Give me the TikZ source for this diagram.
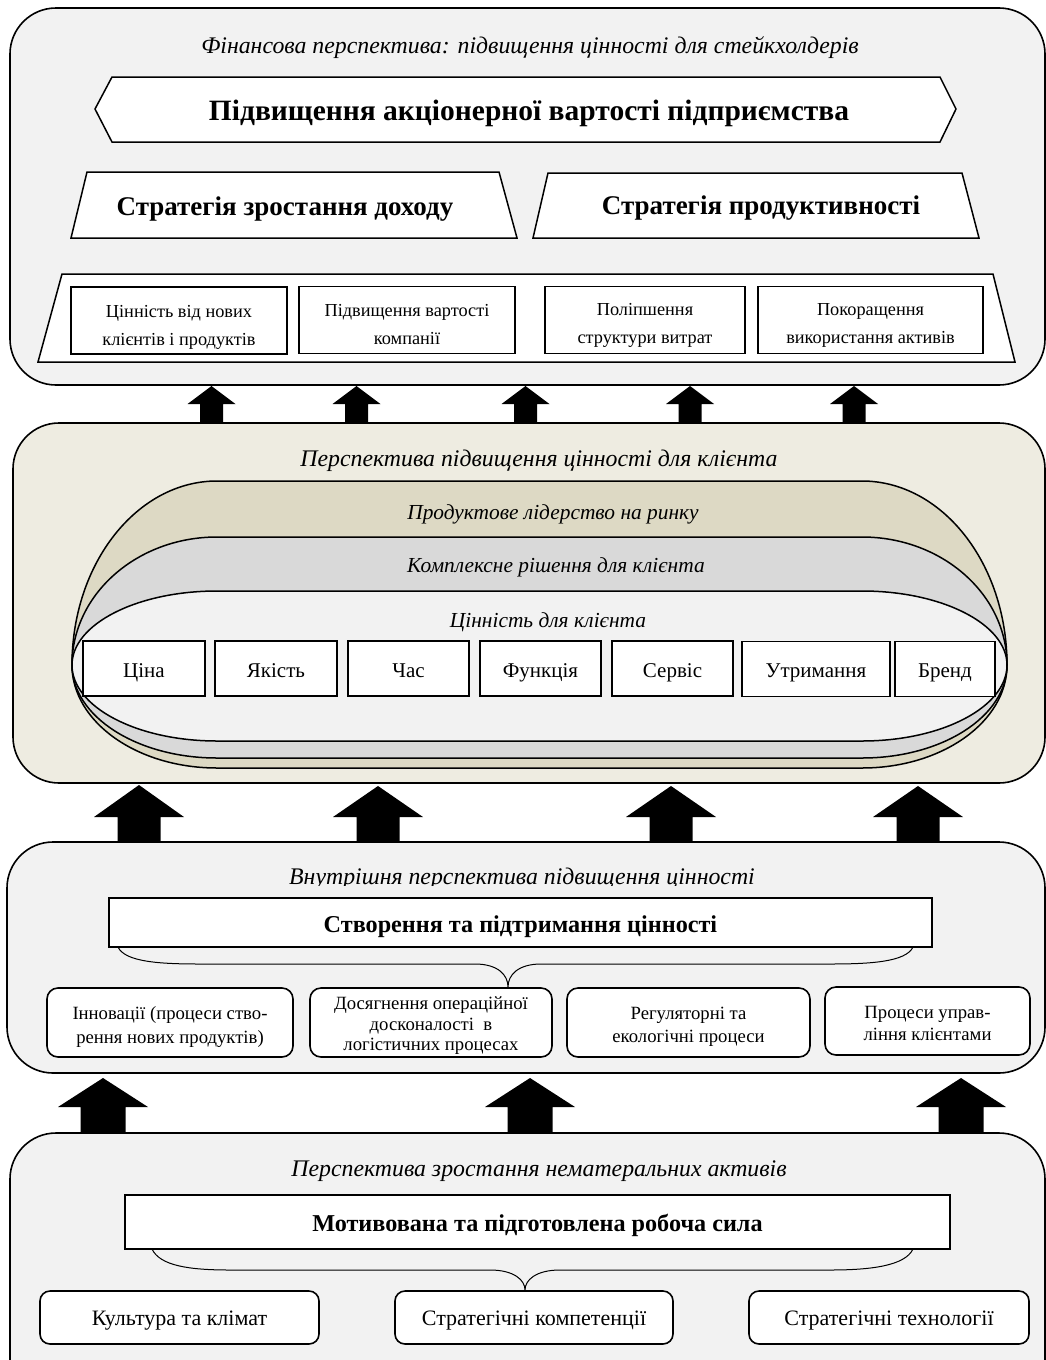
\documentclass[tikz,border=0pt]{standalone}
\usepackage{fontspec}
\setmainfont{Liberation Serif}
\newcommand\myuparrow[7]{%
  \fill[black] (#1-#6,#4) -- (#1-#6,#3) -- (#1-#5,#3) -- (#1,#2) -- (#1+#5,#3) -- (#1+#6,#3) -- (#1+#6,#4) -- cycle;}
\definecolor{pgrey}{HTML}{F2F2F2}
\definecolor{pcream}{HTML}{EEECE1}
\definecolor{ptan}{HTML}{DDD9C4}
\definecolor{pmid}{HTML}{D9D9D9}
\begin{document}
\begin{tikzpicture}[x=1pt,y=-1pt,
  panel/.style={draw=black, line width=1.6pt, rounded corners=46pt},
  shapeline/.style={draw=black, line width=1.5pt, fill=white},
  sbox/.style={draw=black, line width=1.6pt, fill=white, inner sep=0pt},
  rbox/.style={sbox, rounded corners=11pt},
  tx/.style={inner sep=0pt, align=center, execute at begin node=\strut, execute at end node=\strut},
  ptitle/.style={font=\fontsize{23.8}{28}\selectfont\itshape, inner sep=0pt},
  stitle/.style={font=\fontsize{21.4}{25}\selectfont\itshape, inner sep=0pt},
  bigbold/.style={font=\fontsize{29.5}{34}\selectfont\bfseries, inner sep=0pt},
  trbold/.style={font=\fontsize{27}{31}\selectfont\bfseries, inner sep=0pt},
  midbold/.style={tx, font=\fontsize{24.2}{28}\selectfont\bfseries},
  brace/.style={draw=black, line width=1pt}
]
\useasboundingbox (0,0) rectangle (1046,1360);
\clip (0,0) rectangle (1046,1360);
\fill[white] (0,0) rectangle (1046,1360);

% ---------------- Panel 1 ----------------
\draw[panel, fill=pgrey] (10,8) rectangle (1045,385);
\node[ptitle] (t1) at (530,48) {Фінансова перспектива: підвищення цінності для стейкхолдерів};
\path[shapeline] (95,109) -- (112,77) -- (940,77) -- (956,109) -- (940,142) -- (112,142) -- cycle;
\node[bigbold] (hex) at (529,113.5) {Підвищення акціонерної вартості підприємства};
\path[shapeline] (87,172) -- (499,172) -- (517,238) -- (71,238) -- cycle;
\node[trbold] (s1) at (285,209.5) {Стратегія зростання доходу};
\path[shapeline] (548,173) -- (962,173) -- (979,238) -- (533,238) -- cycle;
\node[trbold] (s2) at (761,208.5) {Стратегія продуктивності};
\path[shapeline] (62,274) -- (993,274) -- (1015,362) -- (38,362) -- cycle;
\begin{scope}[every node/.style={minimum height=67pt}]
\node[sbox, minimum width=216pt] (f1) at (179,320.5) {};
\node[sbox, minimum width=216pt] (f2) at (407,320) {};
\node[sbox, minimum width=200pt] (f3) at (645,320) {};
\node[sbox, minimum width=225pt] (f4) at (870.5,320) {};
\end{scope}
\begin{scope}[every node/.style={tx, font=\fontsize{18.3}{28}\selectfont}]
\node (f1t) at (179,330) {Цінність від нових\\клієнтів і продуктів};
\node (f2t) at (407,328.5) {Підвищення вартості\\компанії};
\node (f3t) at (645,328) {Поліпшення\\структури витрат};
\node (f4t) at (870.5,328) {Покоращення\\використання активів};
\end{scope}

% arrows 2 -> 1
\myuparrow{211.5}{386}{404}{423}{24}{11.5}{}
\myuparrow{356.5}{386}{404}{423}{24}{11.5}{}
\myuparrow{525.5}{386}{404}{423}{24}{11.5}{}
\myuparrow{690}{386}{404}{423}{24}{11.5}{}
\myuparrow{854}{386}{404}{423}{24}{11.5}{}

% ---------------- Panel 2 ----------------
\draw[panel, fill=pcream] (13,423) rectangle (1045,783);
\node[ptitle] (t2) at (539,461) {Перспектива підвищення цінності для клієнта};
\draw[line width=1.5pt, fill=ptan] (217,481) -- (862,481) .. controls (942,481) and (1007,563.4) .. (1007,665) .. controls (1007,721.9) and (942,768) .. (862,768) -- (217,768) .. controls (137,768) and (72,721.9) .. (72,665) .. controls (72,563.4) and (137,481) .. cycle;
\draw[line width=1.5pt, fill=pmid] (217,537) -- (862,537) .. controls (942,537) and (1007,594.3) .. (1007,665) .. controls (1007,716.4) and (942,758) .. (862,758) -- (217,758) .. controls (137,758) and (72,716.4) .. (72,665) .. controls (72,594.3) and (137,537) .. cycle;
\draw[line width=1.5pt, fill=pgrey] (217,591) -- (862,591) .. controls (942,591) and (1007,624.1) .. (1007,665) .. controls (1007,707) and (942,741) .. (862,741) -- (217,741) .. controls (137,741) and (72,707) .. (72,665) .. controls (72,624.1) and (137,591) .. cycle;
\node[stitle] (l1) at (553,514) {Продуктове лідерство на ринку};
\node[stitle] (l2) at (556,567) {Комплексне рішення для клієнта};
\node[stitle] (l3) at (548,622) {Цінність для клієнта};
\begin{scope}[every node/.style={minimum height=55pt}]
\node[sbox, minimum width=122pt] (c1) at (144,668.5) {};
\node[sbox, minimum width=122pt] (c2) at (276,668.5) {};
\node[sbox, minimum width=121pt] (c3) at (408.5,668.5) {};
\node[sbox, minimum width=121pt] (c4) at (540.5,668.5) {};
\node[sbox, minimum width=121pt] (c5) at (672.5,668.5) {};
\node[sbox, minimum width=148pt] (c6) at (816,669) {};
\node[sbox, minimum width=100pt] (c7) at (945,669) {};
\end{scope}
\begin{scope}[every node/.style={tx, font=\fontsize{21}{25}\selectfont}]
\node (c1t) at (144,672.5) {Ціна};
\node (c2t) at (276,672.5) {Якість};
\node (c3t) at (408.5,672.5) {Час};
\node (c4t) at (540.5,672.5) {Функція};
\node (c5t) at (672.5,672.5) {Сервіс};
\node (c6t) at (816,672.5) {Утримання};
\node (c7t) at (945,672.5) {Бренд};
\end{scope}

% arrows 3 -> 2
\myuparrow{139}{785}{817}{842}{45}{21.5}{}
\myuparrow{378}{786}{817}{842}{45}{21.5}{}
\myuparrow{671}{786}{817}{842}{45}{21.5}{}
\myuparrow{918}{786}{817}{842}{45}{21.5}{}

% ---------------- Panel 3 ----------------
\draw[panel, fill=pgrey] (7,842) rectangle (1045,1073);
\begin{scope}
\clip (0,850) rectangle (1046,885);
\node[ptitle] (t3) at (522,879) {Внутрішня перспектива підвищення цінності};
\end{scope}
\node[sbox, minimum width=823pt, minimum height=49pt] (vc) at (520.5,922.5) {};
\node[midbold] (vct) at (520.5,927) {Створення та підтримання цінності};
\draw[brace] (118,947) .. controls (125,962) and (160,964) .. (200,964) -- (475,964) .. controls (498,964) and (508,975) .. (508,987) .. controls (508,975) and (518,964) .. (541,964) -- (830,964) .. controls (870,964) and (906,962) .. (913,947);
\node[rbox, minimum width=246pt, minimum height=69pt] (i1) at (170,1022.5) {};
\node[rbox, minimum width=242pt, minimum height=69pt] (i2) at (431,1022.5) {};
\node[rbox, minimum width=243pt, minimum height=69pt] (i3) at (688.5,1022.5) {};
\node[rbox, minimum width=205pt, minimum height=68pt] (i4) at (927.5,1021) {};
\begin{scope}[every node/.style={tx, font=\fontsize{18.7}{23.5}\selectfont}]
\node (i1t) at (170,1028.5) {Інновації (процеси ство-\\рення нових продуктів)};
\node[font=\fontsize{18.7}{20.5}\selectfont] (i2t) at (431,1027) {Досягнення операційної\\досконалості \ в\\логістичних процесах};
\node (i3t) at (688.5,1028.5) {Регуляторні та\\екологічні процеси};
\node[font=\fontsize{18.7}{22}\selectfont] (i4t) at (927.5,1026.5) {Процеси управ-\\ління клієнтами};
\end{scope}

% arrows 4 -> 3
\myuparrow{103}{1078}{1107}{1133}{45}{22.5}{}
\myuparrow{530}{1078}{1107}{1133}{45}{22.5}{}
\myuparrow{961}{1078}{1107}{1133}{45}{22.5}{}

% ---------------- Panel 4 ----------------
\draw[panel, fill=pgrey] (10,1133) rectangle (1045,1420);
\node[ptitle] (t4) at (539,1171) {Перспектива зростання нематеральних активів};
\node[sbox, minimum width=825pt, minimum height=54pt] (mw) at (537.5,1222) {};
\node[midbold] (mwt) at (537.5,1226) {Мотивована та підготовлена робоча сила};
\draw[brace] (152,1249) .. controls (160,1266) and (190,1270) .. (230,1270) -- (490,1270) .. controls (514,1270) and (525,1280) .. (525,1290) .. controls (525,1280) and (536,1270) .. (560,1270) -- (830,1270) .. controls (870,1270) and (905,1266) .. (913,1249);
\begin{scope}[every node/.style={rbox, minimum height=53pt, rounded corners=10pt}]
\node[minimum width=279pt] (k1) at (179.5,1317.5) {};
\node[minimum width=278pt] (k2) at (534,1317.5) {};
\node[minimum width=280pt] (k3) at (889,1317.5) {};
\end{scope}
\begin{scope}[every node/.style={tx, font=\fontsize{22}{26}\selectfont}]
\node (k1t) at (179.5,1320.5) {Культура та клімат};
\node (k2t) at (534,1320.5) {Стратегічні компетенції};
\node (k3t) at (889,1320.5) {Стратегічні технології};
\end{scope}
\end{tikzpicture}
\end{document}
